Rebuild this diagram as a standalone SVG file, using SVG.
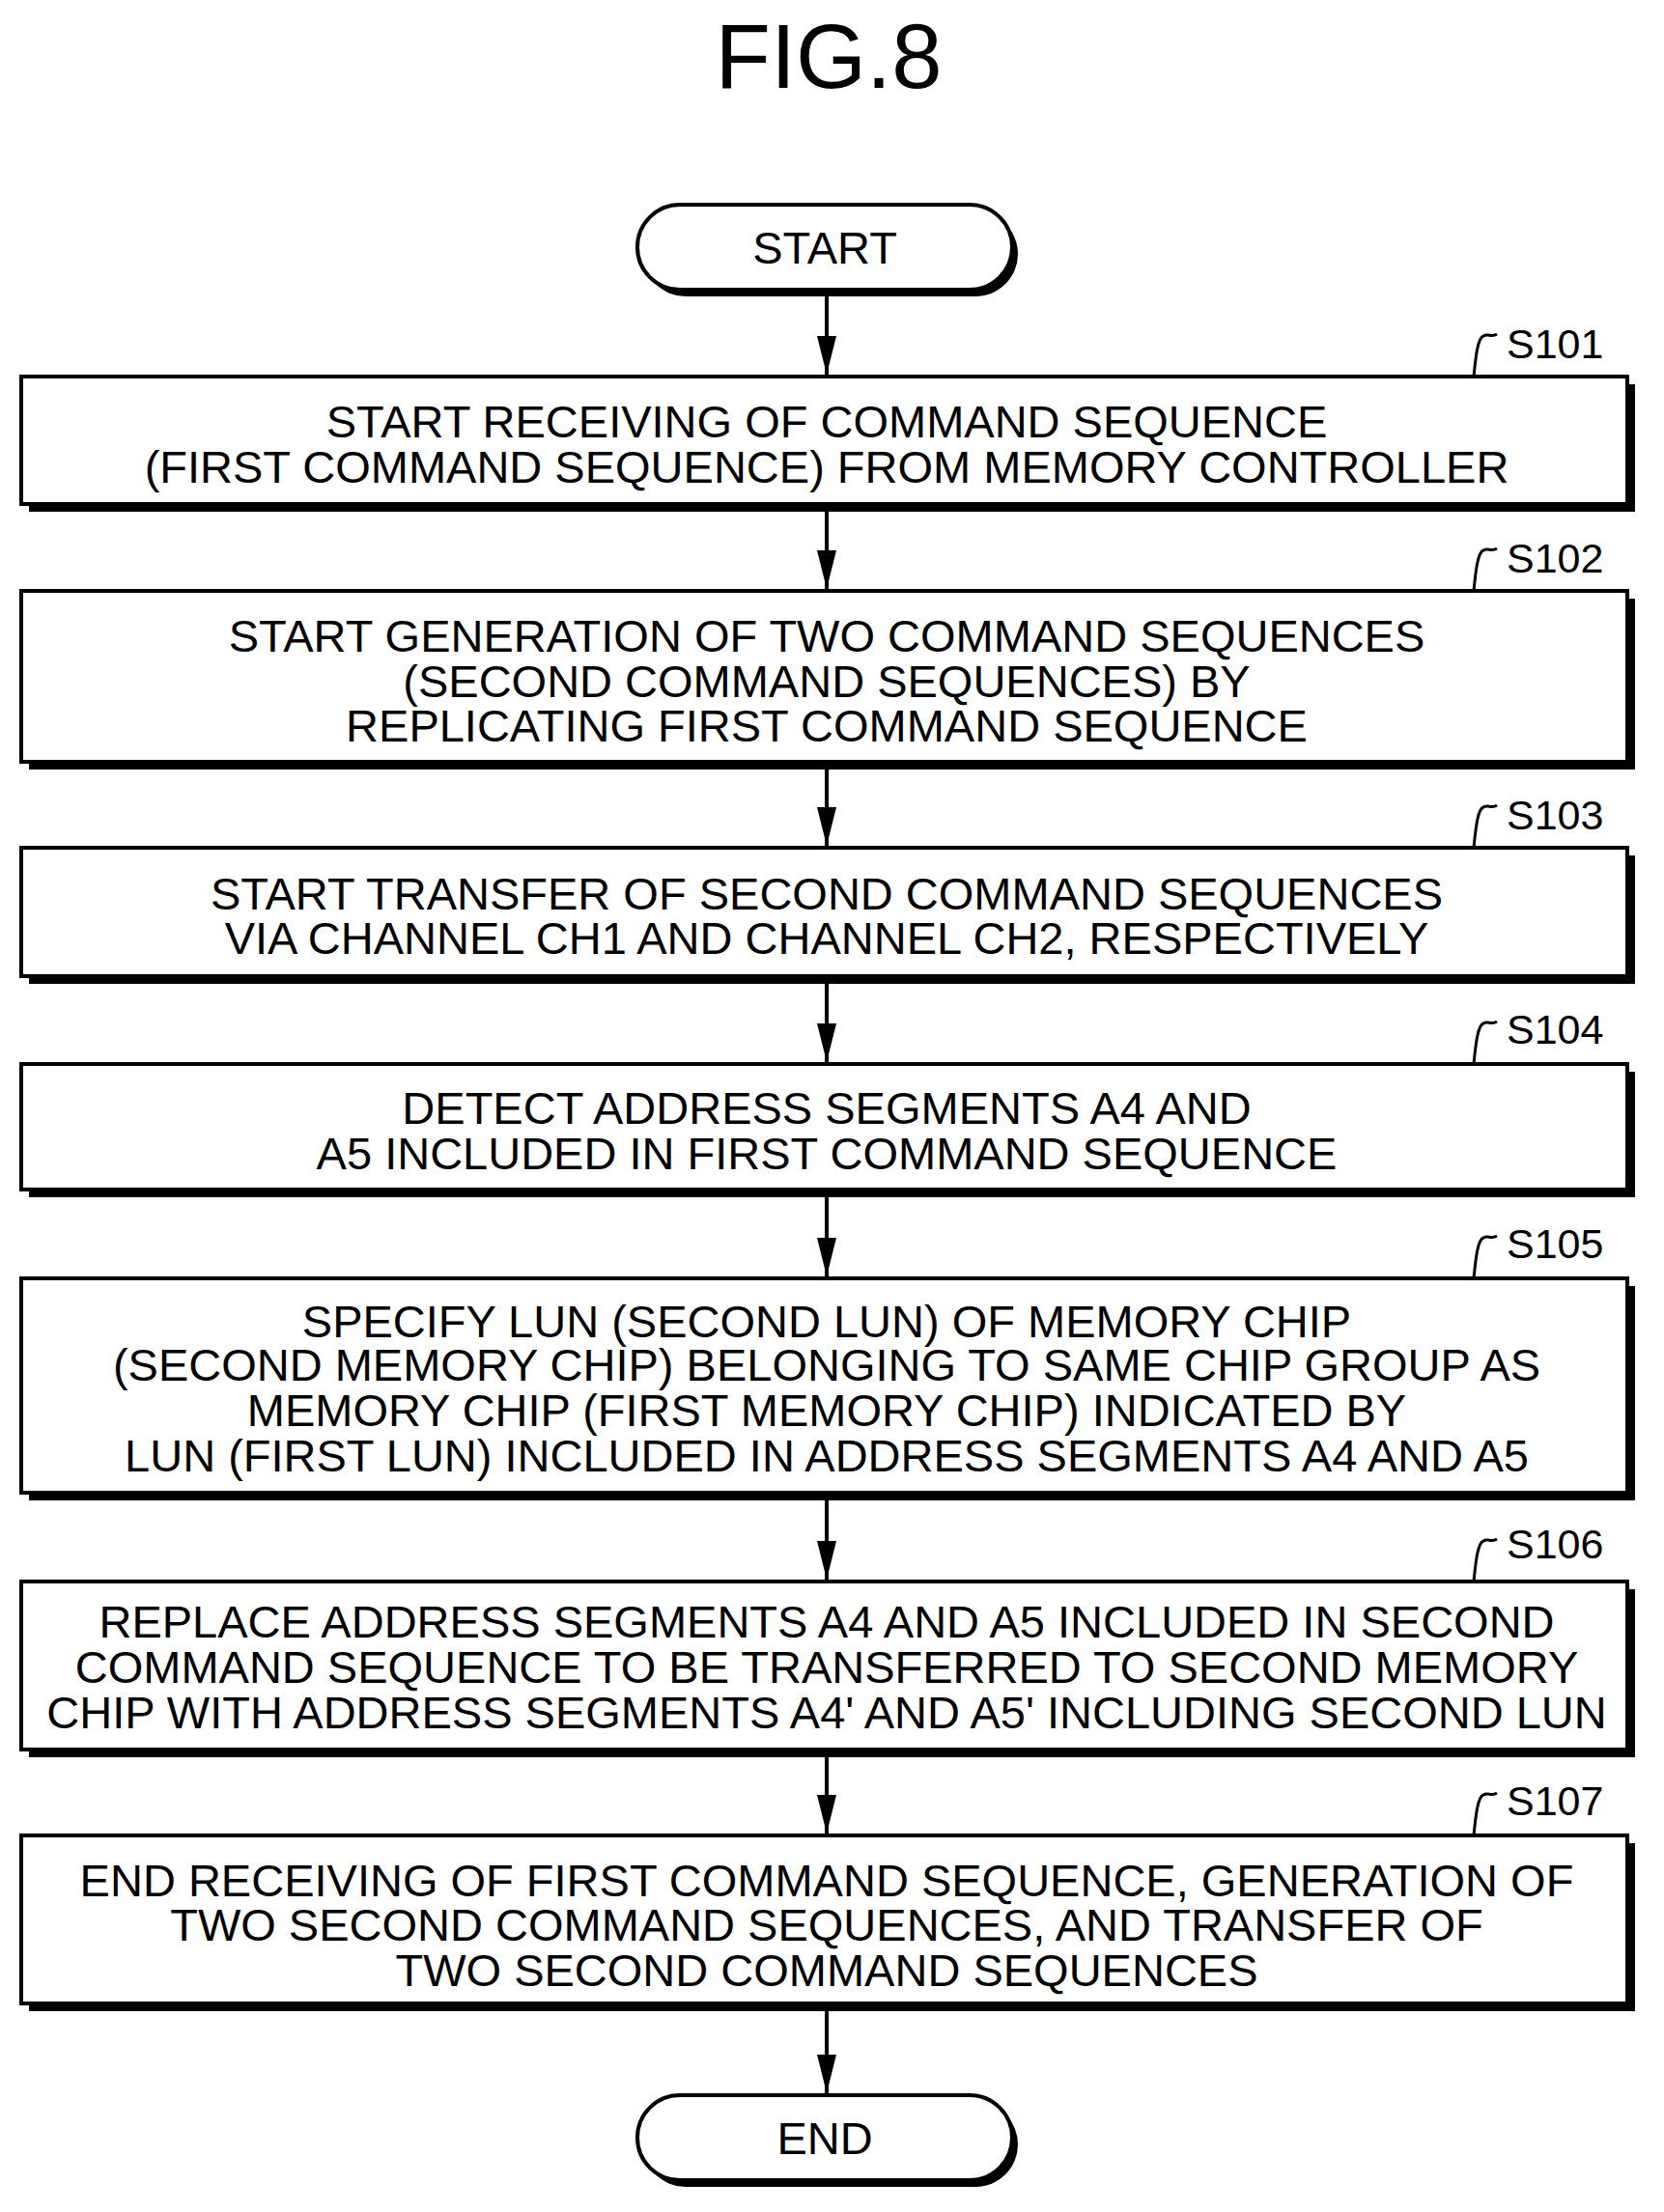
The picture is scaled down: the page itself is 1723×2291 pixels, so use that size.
<svg xmlns="http://www.w3.org/2000/svg" width="1723" height="2291" viewBox="0 0 1723 2291">
<style>
text{font-family:"Liberation Sans",Arial,sans-serif;fill:#000;text-anchor:middle}
.t{font-size:47px}
.l{font-size:43px;text-anchor:start}
.box{fill:#fff;stroke:#000;stroke-width:4}
.sh{fill:#000}
.c{stroke:#000;stroke-width:4;fill:none}
.sq{stroke:#000;stroke-width:3;fill:none}
</style>
<defs>
<marker id="ah" viewBox="0 0 40 20" refX="40" refY="10" markerWidth="40" markerHeight="20" orient="auto" markerUnits="userSpaceOnUse"><path d="M0,0 L40,10 L0,20 Z" fill="#000"/></marker>
</defs>
<text x="858" y="91" style="font-size:94px">FIG.8</text>
<g id="connectors">
<path class="c" d="M856,304 V388" marker-end="url(#ah)"/>
<path class="c" d="M856,530 V610" marker-end="url(#ah)"/>
<path class="c" d="M856,797 V876" marker-end="url(#ah)"/>
<path class="c" d="M856,1019 V1100" marker-end="url(#ah)"/>
<path class="c" d="M856,1240 V1322" marker-end="url(#ah)"/>
<path class="c" d="M856,1554 V1636" marker-end="url(#ah)"/>
<path class="c" d="M856,1820 V1899" marker-end="url(#ah)"/>
<path class="c" d="M856,2083 V2168" marker-end="url(#ah)"/>
</g>
<g id="start">
<rect class="sh" x="666" y="219" width="388" height="88" rx="44"/>
<rect class="box" x="660" y="212" width="388" height="88" rx="44"/>
<text class="t" x="854" y="273">START</text>
</g>
<g id="s101">
<rect class="sh" x="30" y="398" width="1663" height="132"/>
<rect class="box" x="22" y="390" width="1663" height="132"/>
<text class="t" x="856" y="453">START RECEIVING OF COMMAND SEQUENCE</text>
<text class="t" x="856" y="500">(FIRST COMMAND SEQUENCE) FROM MEMORY CONTROLLER</text>
<path class="sq" d="M1526,390 C1528,370 1530,350 1536,348 C1541,345 1544,350 1550,346"/>
<text class="l" x="1560" y="371">S101</text>
</g>
<g id="s102">
<rect class="sh" x="30" y="620" width="1663" height="177"/>
<rect class="box" x="22" y="612" width="1663" height="177"/>
<text class="t" x="856" y="675">START GENERATION OF TWO COMMAND SEQUENCES</text>
<text class="t" x="856" y="722">(SECOND COMMAND SEQUENCES) BY</text>
<text class="t" x="856" y="768">REPLICATING FIRST COMMAND SEQUENCE</text>
<path class="sq" d="M1526,612 C1528,592 1530,572 1536,570 C1541,567 1544,572 1550,568"/>
<text class="l" x="1560" y="593">S102</text>
</g>
<g id="s103">
<rect class="sh" x="30" y="886" width="1663" height="133"/>
<rect class="box" x="22" y="878" width="1663" height="133"/>
<text class="t" x="856" y="942">START TRANSFER OF SECOND COMMAND SEQUENCES</text>
<text class="t" x="856" y="988">VIA CHANNEL CH1 AND CHANNEL CH2, RESPECTIVELY</text>
<path class="sq" d="M1526,878 C1528,858 1530,838 1536,836 C1541,833 1544,838 1550,834"/>
<text class="l" x="1560" y="859">S103</text>
</g>
<g id="s104">
<rect class="sh" x="30" y="1110" width="1663" height="130"/>
<rect class="box" x="22" y="1102" width="1663" height="130"/>
<text class="t" x="856" y="1164">DETECT ADDRESS SEGMENTS A4 AND</text>
<text class="t" x="856" y="1211">A5 INCLUDED IN FIRST COMMAND SEQUENCE</text>
<path class="sq" d="M1526,1102 C1528,1082 1530,1062 1536,1060 C1541,1057 1544,1062 1550,1058"/>
<text class="l" x="1560" y="1081">S104</text>
</g>
<g id="s105">
<rect class="sh" x="30" y="1332" width="1663" height="222"/>
<rect class="box" x="22" y="1324" width="1663" height="222"/>
<text class="t" x="856" y="1385">SPECIFY LUN (SECOND LUN) OF MEMORY CHIP</text>
<text class="t" x="856" y="1430">(SECOND MEMORY CHIP) BELONGING TO SAME CHIP GROUP AS</text>
<text class="t" x="856" y="1477">MEMORY CHIP (FIRST MEMORY CHIP) INDICATED BY</text>
<text class="t" x="856" y="1524">LUN (FIRST LUN) INCLUDED IN ADDRESS SEGMENTS A4 AND A5</text>
<path class="sq" d="M1526,1324 C1528,1304 1530,1284 1536,1282 C1541,1279 1544,1284 1550,1280"/>
<text class="l" x="1560" y="1303">S105</text>
</g>
<g id="s106">
<rect class="sh" x="30" y="1646" width="1663" height="174"/>
<rect class="box" x="22" y="1638" width="1663" height="174"/>
<text class="t" x="856" y="1696">REPLACE ADDRESS SEGMENTS A4 AND A5 INCLUDED IN SECOND</text>
<text class="t" x="856" y="1743">COMMAND SEQUENCE TO BE TRANSFERRED TO SECOND MEMORY</text>
<text class="t" x="856" y="1790">CHIP WITH ADDRESS SEGMENTS A4' AND A5' INCLUDING SECOND LUN</text>
<path class="sq" d="M1526,1638 C1528,1618 1530,1598 1536,1596 C1541,1593 1544,1598 1550,1594"/>
<text class="l" x="1560" y="1614">S106</text>
</g>
<g id="s107">
<rect class="sh" x="30" y="1909" width="1663" height="174"/>
<rect class="box" x="22" y="1901" width="1663" height="174"/>
<text class="t" x="856" y="1964">END RECEIVING OF FIRST COMMAND SEQUENCE, GENERATION OF</text>
<text class="t" x="856" y="2010">TWO SECOND COMMAND SEQUENCES, AND TRANSFER OF</text>
<text class="t" x="856" y="2057">TWO SECOND COMMAND SEQUENCES</text>
<path class="sq" d="M1526,1901 C1528,1881 1530,1861 1536,1859 C1541,1856 1544,1861 1550,1857"/>
<text class="l" x="1560" y="1880">S107</text>
</g>
<g id="end">
<rect class="sh" x="666" y="2177" width="388" height="88" rx="44"/>
<rect class="box" x="660" y="2170" width="388" height="88" rx="44"/>
<text class="t" x="854" y="2231">END</text>
</g>
</svg>
